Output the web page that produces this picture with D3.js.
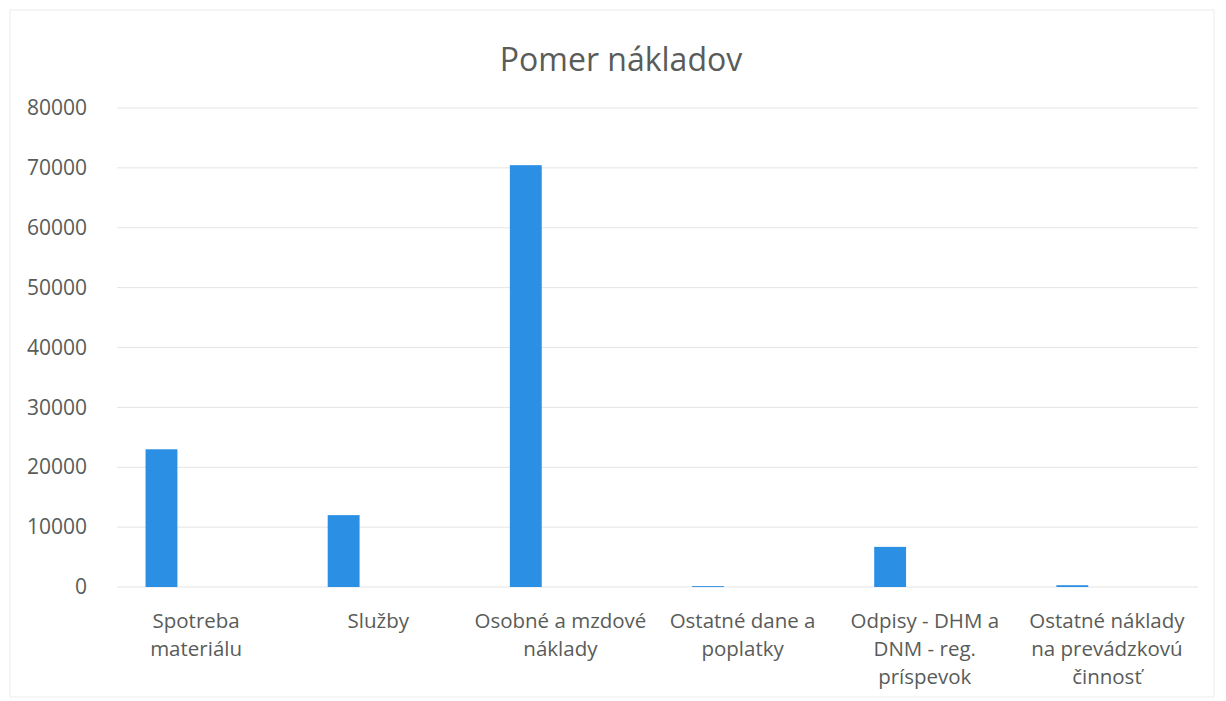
<!DOCTYPE html>
<html>
<head>
<meta charset="utf-8">
<script src="https://cdn.jsdelivr.net/npm/d3@7"></script>
<style>
  body { margin: 0; background: #fff; }
  text { font-family: "Open Sans", sans-serif; fill: #595c59; }
</style>
</head>
<body>
<script>
const categories = [
  "Spotreba materiálu",
  "Služby",
  "Osobné a mzdové náklady",
  "Ostatné dane a poplatky",
  "Odpisy - DHM a DNM - reg. príspevok",
  "Ostatné náklady na prevádzkovú činnosť"
];
// wrapped the way the original shows them
const categoryLines = [
  ["Spotreba", "materiálu"],
  ["Služby"],
  ["Osobné a mzdové", "náklady"],
  ["Ostatné dane a", "poplatky"],
  ["Odpisy - DHM a", "DNM - reg.", "príspevok"],
  ["Ostatné náklady", "na prevádzkovú", "činnosť"]
];
const values = [23000, 12000, 70450, 150, 6700, 300];
const yTicks = [0, 10000, 20000, 30000, 40000, 50000, 60000, 70000, 80000];

const width = 1226, height = 701;

const svg = d3.select("body").append("svg")
    .attr("width", width)
    .attr("height", height);

// chart area frame
svg.append("rect")
    .attr("x", 10).attr("y", 10)
    .attr("width", width - 22).attr("height", height - 14)
    .attr("fill", "none")
    .attr("stroke", "#ececec");

const x = d3.scaleBand()
    .domain(categories)
    .range([105, 1198]);

const y = d3.scaleLinear()
    .domain([0, 80000])
    .range([587, 108]);

// grid
svg.append("g")
  .selectAll("line")
    .data(yTicks)
  .enter().append("line")
    .attr("x1", x.range()[0] + 12)
    .attr("x2", x.range()[1])
    .attr("y1", d => y(d))
    .attr("y2", d => y(d))
    .attr("stroke", "#e4e4e4")
    .attr("stroke-width", 1);

// y axis labels
const yAxis = svg.append("g")
    .attr("transform", "translate(" + (x.range()[0] - 18) + ",0)")
    .call(d3.axisLeft(y).tickValues(yTicks).tickFormat(d3.format("d")).tickSize(0).tickPadding(0));
yAxis.select(".domain").remove();
yAxis.selectAll("text")
    .attr("fill", null)
    .style("font-family", "'Open Sans', sans-serif")
    .style("font-size", "21px");

// bars (first series sits left of the category centre)
const barW = x.step() * 0.175;
const barOff = x.step() * 0.19;
svg.append("g")
  .selectAll("rect")
    .data(values)
  .enter().append("rect")
    .attr("x", (d, i) => x(categories[i]) + x.bandwidth() / 2 - barOff - barW / 2)
    .attr("y", d => y(d))
    .attr("width", barW)
    .attr("height", d => y(0) - y(d))
    .attr("fill", "#2b8fe3");

// category labels
const cat = svg.append("g")
  .selectAll("text")
    .data(categoryLines)
  .enter().append("text")
    .attr("text-anchor", "middle")
    .style("font-size", "20.5px")
    .attr("transform", (d, i) => "translate(" + (x(categories[i]) + x.bandwidth() / 2) + ",628)");
cat.selectAll("tspan")
    .data(d => d)
  .enter().append("tspan")
    .attr("x", 0)
    .attr("dy", (d, i) => i === 0 ? 0 : 28)
    .text(d => d);

// title
svg.append("text")
    .attr("x", 621)
    .attr("y", 71)
    .attr("text-anchor", "middle")
    .style("font-size", "32px")
    .text("Pomer nákladov");
</script>
</body>
</html>
